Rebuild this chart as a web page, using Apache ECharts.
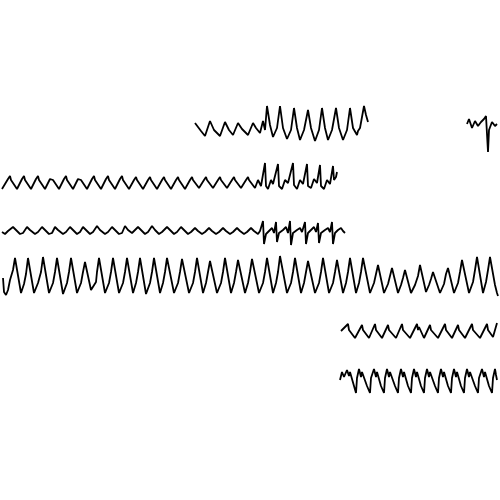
<!DOCTYPE html>
<html><head><meta charset="utf-8">
<script src="https://cdn.jsdelivr.net/npm/echarts@6/dist/echarts.min.js"></script>
<style>html,body{margin:0;padding:0;background:#fff}#c{width:500px;height:500px}</style>
</head><body><div id="c"></div>
<script>
// Trace values: [time, amplitude]
const traceTop = [[195,123],[198,127],[201,131],[205,136],[210,121],[214,130],[220,136],[225,122],[229,130],[233,135],[238,123],[242,129],[248,135],[253,123],[256,128],[260,133],[263,121],[265,130],
[267,106],[270,125],[273,137],[277,128],[280,106],[283,128],[287,139],[291,130],[294,108],[297,128],[300,140],[304,130],[308,110],[311,128],[315,141],[319,130],[322,108],[325,128],[328,140],[332,130],[336,108],[339,128],[343,140],[347,130],[350,108],[353,128],[357,135],[358,131],[360,128],[364,106],[366,115],[368,122]];
const traceTopRight = [[467,124],[469,119],[472,128],[475,121],[478,126],[481,122],[484,119],[486,116],[488,152],[489,130],[492,122],[495,126],[497,124]];
const traceRow2 = [[2,189],[8,179],[10,176],[11,180],[12,178],[17,189],[22,179],[24,176],[25,180],[26,178],[31,189],[36,179],[38,176],[39,180],[40,178],[45,189],[50,179],[52,177],[53,180],[54,178],[59,189],[64,179],[66,176],[67,180],[68,178],[73,189],[78,179],[80,177],[81,180],[82,178],[87,189],[92,179],[94,176],[95,180],[96,178],[101,189],[106,179],[108,176],[109,180],[110,178],[115,189],[120,179],[122,176],[123,180],[124,178],[129,189],[134,180],[136,177],[137,180],[138,178],[143,189],[148,180],[150,177],[151,180],[152,178],[157,189],[162,180],[164,177],[165,180],[166,178],[171,189],[176,180],[178,177],[179,180],[180,179],[185,189],[190,180],[192,177],[193,180],[194,179],[199,188],[204,180],[206,177],[207,180],[208,179],[213,188],[218,180],[220,177],[221,180],[222,179],[227,188],[232,180],[234,177],[235,180],[236,179],[241,188],[246,180],[248,177],[249,180],[250,179],[255,188],[258,180],[261,186],
[265,163],[266,186],[268,189],[271,180],[273,184],[278,164],[279,186],[282,189],[285,180],[288,183],[293,163],[294,185],[297,189],[300,180],[303,184],[307,164],[308,186],[311,188],[314,179],[317,183],[320,165],[321,186],[324,189],[327,180],[330,184],[333,166],[334,180],[336,177],[337,172]];
const traceRow3 = [[2,232],[5,234],[8,231],[10,229],[13,227],[16,230],[20,234],[23,233],[27,227],[30,230],[35,234],[38,232],[42,227],[45,230],[49,234],[52,233],[55,227],[58,230],[63,234],[66,232],[70,227],[73,230],[77,234],[80,232],[83,227],[86,230],[90,234],[93,232],[97,226],[100,230],[105,234],[108,232],[112,227],[115,230],[119,234],[122,233],[125,226],[128,230],[132,233],[134,232],[138,227],[141,230],[145,234],[148,232],[152,226],[155,230],[159,234],[162,232],[167,227],[170,230],[174,234],[177,232],[181,227],[184,230],[188,234],[191,232],[195,228],[198,231],[202,234],[205,232],[209,228],[212,231],[216,234],[219,232],[223,228],[226,231],[230,234],[233,232],[237,228],[240,231],[244,234],[247,232],[251,228],[254,231],[258,234],[260,231],
[263,221],[264,244],[266,234],[269,231],[272,228],[274,233],[276,222],[277,242],[279,233],[283,230],[286,227],[288,233],[290,221],[291,245],[293,233],[297,230],[300,228],[302,232],[305,222],[306,244],[308,233],[311,230],[314,227],[316,232],[318,223],[319,243],[321,233],[325,230],[328,228],[330,232],[332,222],[333,244],[335,233],[338,230],[341,228],[343,231],[345,233]];
const traceRow4 = [[3,278],[4,292],[6,295],[8,290],[10,280],[13,270],
[15,258],[21,293],[24,284],[26,274],[28,258],[34,293],[38,283],[41,272],[43,257],[49,293],[53,283],[55,272],[57,258],[63,294],[67,283],[69,272],[71,258],[77,293],[81,283],[83,272],[85,262],[91,290],[93,289],[96,282],[97,272],[99,258],[105,293],[109,283],[111,272],[113,258],[119,293],[123,283],[125,272],[127,258],[133,293],[136,283],[138,272],[140,258],[146,294],[150,283],[152,272],[154,258],[160,293],[163,283],[165,272],[167,258],[174,293],[178,283],[180,272],[182,259],[189,293],[193,283],[195,272],[197,258],[203,293],[206,283],[208,272],[210,261],[217,293],[221,283],[223,272],[225,258],[231,293],[234,283],[236,272],[238,260],[245,293],[248,283],[250,272],[252,259],[259,293],[263,283],[265,272],[267,258],[273,293],[276,283],[278,272],[280,256],[287,293],[291,283],[293,272],[295,258],[301,293],[304,283],[306,272],[308,261],[315,293],[319,283],[321,272],[323,258],[329,293],[333,283],[335,272],[337,260],[343,293],[346,283],[348,272],[350,258],[356,293],[359,283],[361,272],[363,258],[370,293],[374,283],[376,274],[378,265],[384,293],[388,284],[390,276],[392,268],[398,293],[401,285],[403,278],[405,270],[411,293],[415,285],[418,276],[420,265],[426,292],[429,285],[431,279],[433,272],[440,293],[444,284],[446,274],[448,268],[454,293],[458,283],[460,272],[462,260],[469,293],[473,282],[475,270],[477,257],[483,293],[486,282],[488,270],[490,257],[495,285],[497,293],[498,296]];
const traceRow5 = [[341,331],[344,328],[348,324],[349,330],[350,328],[355,338],[362,325],[363,330],[364,328],[369,338],[375,324],[376,330],[377,328],[382,338],[388,325],[389,330],[390,328],[396,338],[402,324],[403,330],[404,328],[410,338],[417,324],[418,330],[419,327],[424,338],[430,325],[431,330],[432,328],[438,338],[445,324],[446,330],[447,328],[452,338],[458,325],[459,330],[460,328],[465,338],[472,324],[473,330],[474,328],[480,338],[487,324],[488,330],[489,328],[493,337],[497,323]];
const traceRow6 = [[340,380],[342,372],[344,377],[347,370],[348,368],[349,376],[350,372],[354,386],[356,393],[357,378],[359,369],[360,368],[361,377],[362,372],[367,386],[370,393],[371,378],[374,369],[375,368],[376,377],[377,372],[381,386],[384,393],[385,378],[387,369],[388,368],[389,377],[390,372],[395,386],[398,393],[399,378],[401,369],[402,368],[403,377],[404,372],[408,386],[411,393],[412,378],[414,369],[415,368],[416,377],[417,372],[421,386],[424,393],[425,378],[427,369],[428,368],[429,377],[430,372],[435,386],[438,393],[439,378],[441,369],[442,368],[443,377],[444,372],[448,386],[451,393],[452,378],[454,369],[455,368],[456,377],[457,372],[461,386],[464,393],[465,378],[467,369],[468,368],[469,377],[470,372],[475,386],[478,393],[479,378],[482,369],[483,367],[484,377],[485,372],[489,386],[492,393],[493,378],[495,369],[496,375],[497,380]];

const traces = [traceTop, traceTopRight, traceRow2, traceRow3, traceRow4, traceRow5, traceRow6];
const chart = echarts.init(document.getElementById('c'), null, {renderer:'canvas'});
chart.setOption({
  animation:false,
  backgroundColor:'#fff',
  grid:{left:0,right:0,top:0,bottom:0},
  xAxis:{type:'value',min:0,max:500,show:false},
  yAxis:{type:'value',min:0,max:500,inverse:true,show:false},
  series: traces.map(d=>({type:'line',data:d,symbol:'none',lineStyle:{color:'#000',width:1.8},silent:true}))
});
</script></body></html>
